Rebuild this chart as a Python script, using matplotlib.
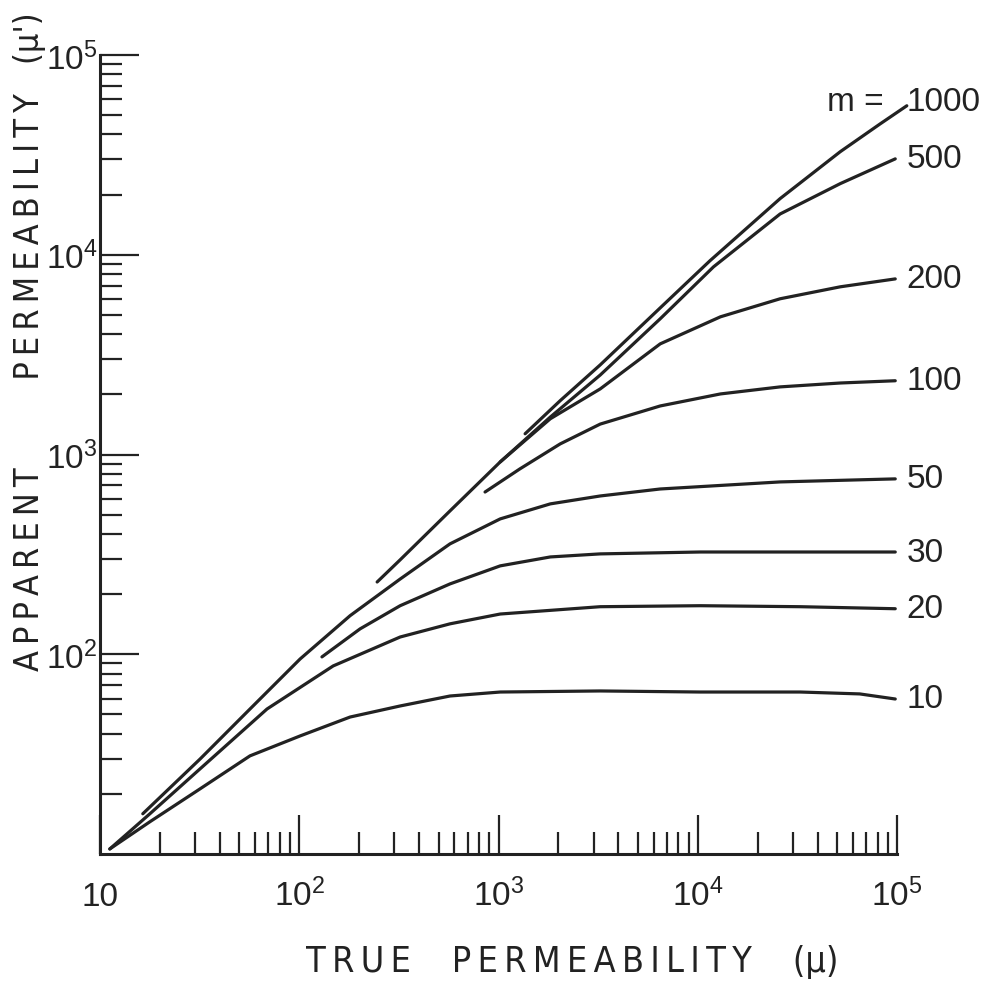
import matplotlib
matplotlib.use('Agg')
import matplotlib.pyplot as plt
from matplotlib import font_manager
from matplotlib.ticker import LogLocator, NullFormatter

# 曲線データ (真の透磁率 mu, 見かけの透磁率 mu') 図から読み取り
m_labels = ['10', '20', '30', '50', '100', '200', '500', '1000']

x_m10 = [11.2, 17.8, 31.8, 56.6, 101, 180, 321, 571, 1020, 3240, 10300, 32700, 65000, 98000]
y_m10 = [10.6, 14.5, 21.2, 31.0, 39.0, 48.5, 55.1, 61.8, 64.7, 65.5, 64.7, 64.7, 63.3, 59.7]

x_m20 = [11.2, 17.8, 31.8, 68.9, 148, 321, 571, 1020, 3240, 10300, 32700, 98000]
y_m20 = [10.6, 15.9, 26.7, 53.2, 87.4, 122, 142, 159, 173, 175, 173, 169]

x_m30 = [130, 202, 321, 571, 1020, 1820, 3240, 10300, 32700, 98000]
y_m30 = [97, 134, 175, 225, 277, 307, 318, 325, 325, 325]

x_m50 = [16.4, 31.8, 56.6, 101, 180, 321, 571, 1020, 1820, 3240, 6480, 25900, 98000]
y_m50 = [15.9, 29.9, 53.2, 94.7, 156, 238, 357, 476, 566, 620, 672, 729, 755]

x_m100 = [856, 1280, 2040, 3240, 6480, 13000, 25900, 51900, 98000]
y_m100 = [649, 847, 1130, 1420, 1750, 2010, 2180, 2280, 2340]

x_m200 = [1020, 1820, 3240, 6480, 13000, 25900, 51900, 98000]
y_m200 = [918, 1510, 2130, 3580, 4890, 6020, 6910, 7570]

x_m500 = [246, 321, 571, 1020, 1820, 3240, 6480, 12000, 25900, 51900, 98000]
y_m500 = [230, 297, 522, 918, 1540, 2500, 4780, 8700, 16000, 22700, 30200]

x_m1000 = [1360, 2040, 3240, 6480, 11500, 25900, 51900, 82300, 112000]
y_m1000 = [1270, 1860, 2810, 5420, 9320, 19100, 32800, 45200, 55700]

x_ticks = [10, 100, 1000, 10000, 100000]
x_tick_labels = ['10', '$10^{2}$', '$10^{3}$', '$10^{4}$', '$10^{5}$']
y_ticks = [100, 1000, 10000, 100000]
y_tick_labels = ['$10^{2}$', '$10^{3}$', '$10^{4}$', '$10^{5}$']

# フォント選択 (無ければDejaVu)
ttf = font_manager.fontManager.ttflist
names = {f.name for f in ttf}
PLAIN = 'Liberation Sans' if 'Liberation Sans' in names else 'DejaVu Sans'

# 軸ラベル用: 細い書体があれば使う
LABEL_FONT = PLAIN
LABEL_STRETCH = 'normal'
if 'Liberation Sans Narrow' in names:
    LABEL_FONT = 'Liberation Sans Narrow'
else:
    for fam in ['DejaVu Sans', 'Noto Sans', 'Roboto', 'Open Sans']:
        hit = [f for f in ttf if f.name == fam and f.style == 'normal'
               and str(f.stretch) in ('condensed', 'semi-condensed')]
        if hit:
            LABEL_FONT = fam
            LABEL_STRETCH = str(hit[0].stretch)
            break

plt.rcParams['font.family'] = [PLAIN, 'DejaVu Sans']
plt.rcParams['mathtext.fontset'] = 'custom'
plt.rcParams['mathtext.rm'] = PLAIN
plt.rcParams['mathtext.it'] = PLAIN + ':italic'
plt.rcParams['mathtext.bf'] = PLAIN + ':bold'

INK = '#222222'

fig = plt.figure(figsize=(9.86, 9.87), dpi=100)
ax = fig.add_axes([100 / 986, 132 / 987, 797 / 986, 799 / 987])
ax.set_xscale('log')
ax.set_yscale('log')
ax.set_xlim(10, 1e5)
ax.set_ylim(10, 1e5)

curves = [(x_m10, y_m10), (x_m20, y_m20), (x_m30, y_m30), (x_m50, y_m50),
          (x_m100, y_m100), (x_m200, y_m200), (x_m500, y_m500), (x_m1000, y_m1000)]
for (xs, ys), lab in zip(curves, m_labels):
    ax.plot(xs, ys, color=INK, lw=2.3, solid_capstyle='round', solid_joinstyle='round',
            clip_on=False)
    if lab == '1000':
        ax.annotate('1000', xy=(xs[-1], ys[-1]), xytext=(0, 3), textcoords='offset points',
                    ha='left', va='center', fontsize=24, color=INK, annotation_clip=False)
        ax.annotate('m =', xy=(xs[-1], ys[-1]), xytext=(-17, 3), textcoords='offset points',
                    ha='right', va='center', fontsize=24, color=INK, annotation_clip=False)
    else:
        ax.annotate(lab, xy=(xs[-1], ys[-1]), xytext=(8, 0), textcoords='offset points',
                    ha='left', va='center', fontsize=24, color=INK, annotation_clip=False)

# 軸線は左と下だけ
for s in ['top', 'right']:
    ax.spines[s].set_visible(False)
for s in ['left', 'bottom']:
    ax.spines[s].set_linewidth(2.2)
    ax.spines[s].set_color(INK)

ax.set_xticks(x_ticks, labels=x_tick_labels)
ax.set_yticks(y_ticks, labels=y_tick_labels)
for axis in (ax.xaxis, ax.yaxis):
    axis.set_minor_locator(LogLocator(base=10, subs=range(2, 10)))
    axis.set_minor_formatter(NullFormatter())

ax.tick_params(which='major', direction='in', length=28, width=1.6, color=INK,
               labelsize=24, labelcolor=INK)
ax.tick_params(which='minor', direction='in', length=16, width=1.6, color=INK)
ax.tick_params(axis='x', which='major', pad=37)
ax.tick_params(axis='y', which='major', pad=2)
for lbl in ax.get_xticklabels():
    lbl.set_va('baseline')

# 軸ラベル (字間は細いスペース)
sp = '\u2009'
ylab = sp.join('APPARENT') + ' ' * 9 + sp.join('PERMEABILITY') + ' ' * 3 + "(μ')"
xlab = sp.join('TRUE') + ' ' * 4 + sp.join('PERMEABILITY') + ' ' * 4 + '(μ)'
ty = fig.text(30 / 986, 1 - 342 / 987, ylab, rotation=90, ha='center', va='center',
              fontsize=25, family=[LABEL_FONT, 'DejaVu Sans'], fontstretch=LABEL_STRETCH,
              color=INK)
tx = fig.text(572 / 986, 1 - 962 / 987, xlab, ha='center', va='center',
              fontsize=26, family=[LABEL_FONT, 'DejaVu Sans'], fontstretch=LABEL_STRETCH,
              color=INK)

# 長さを原図に合わせて文字サイズ調整
fig.canvas.draw()
rend = fig.canvas.get_renderer()
h = ty.get_window_extent(renderer=rend).height
ty.set_fontsize(ty.get_fontsize() * 660 / h)
w = tx.get_window_extent(renderer=rend).width
tx.set_fontsize(tx.get_fontsize() * 535 / w)

fig.savefig('out.png', dpi=100, facecolor='white')
